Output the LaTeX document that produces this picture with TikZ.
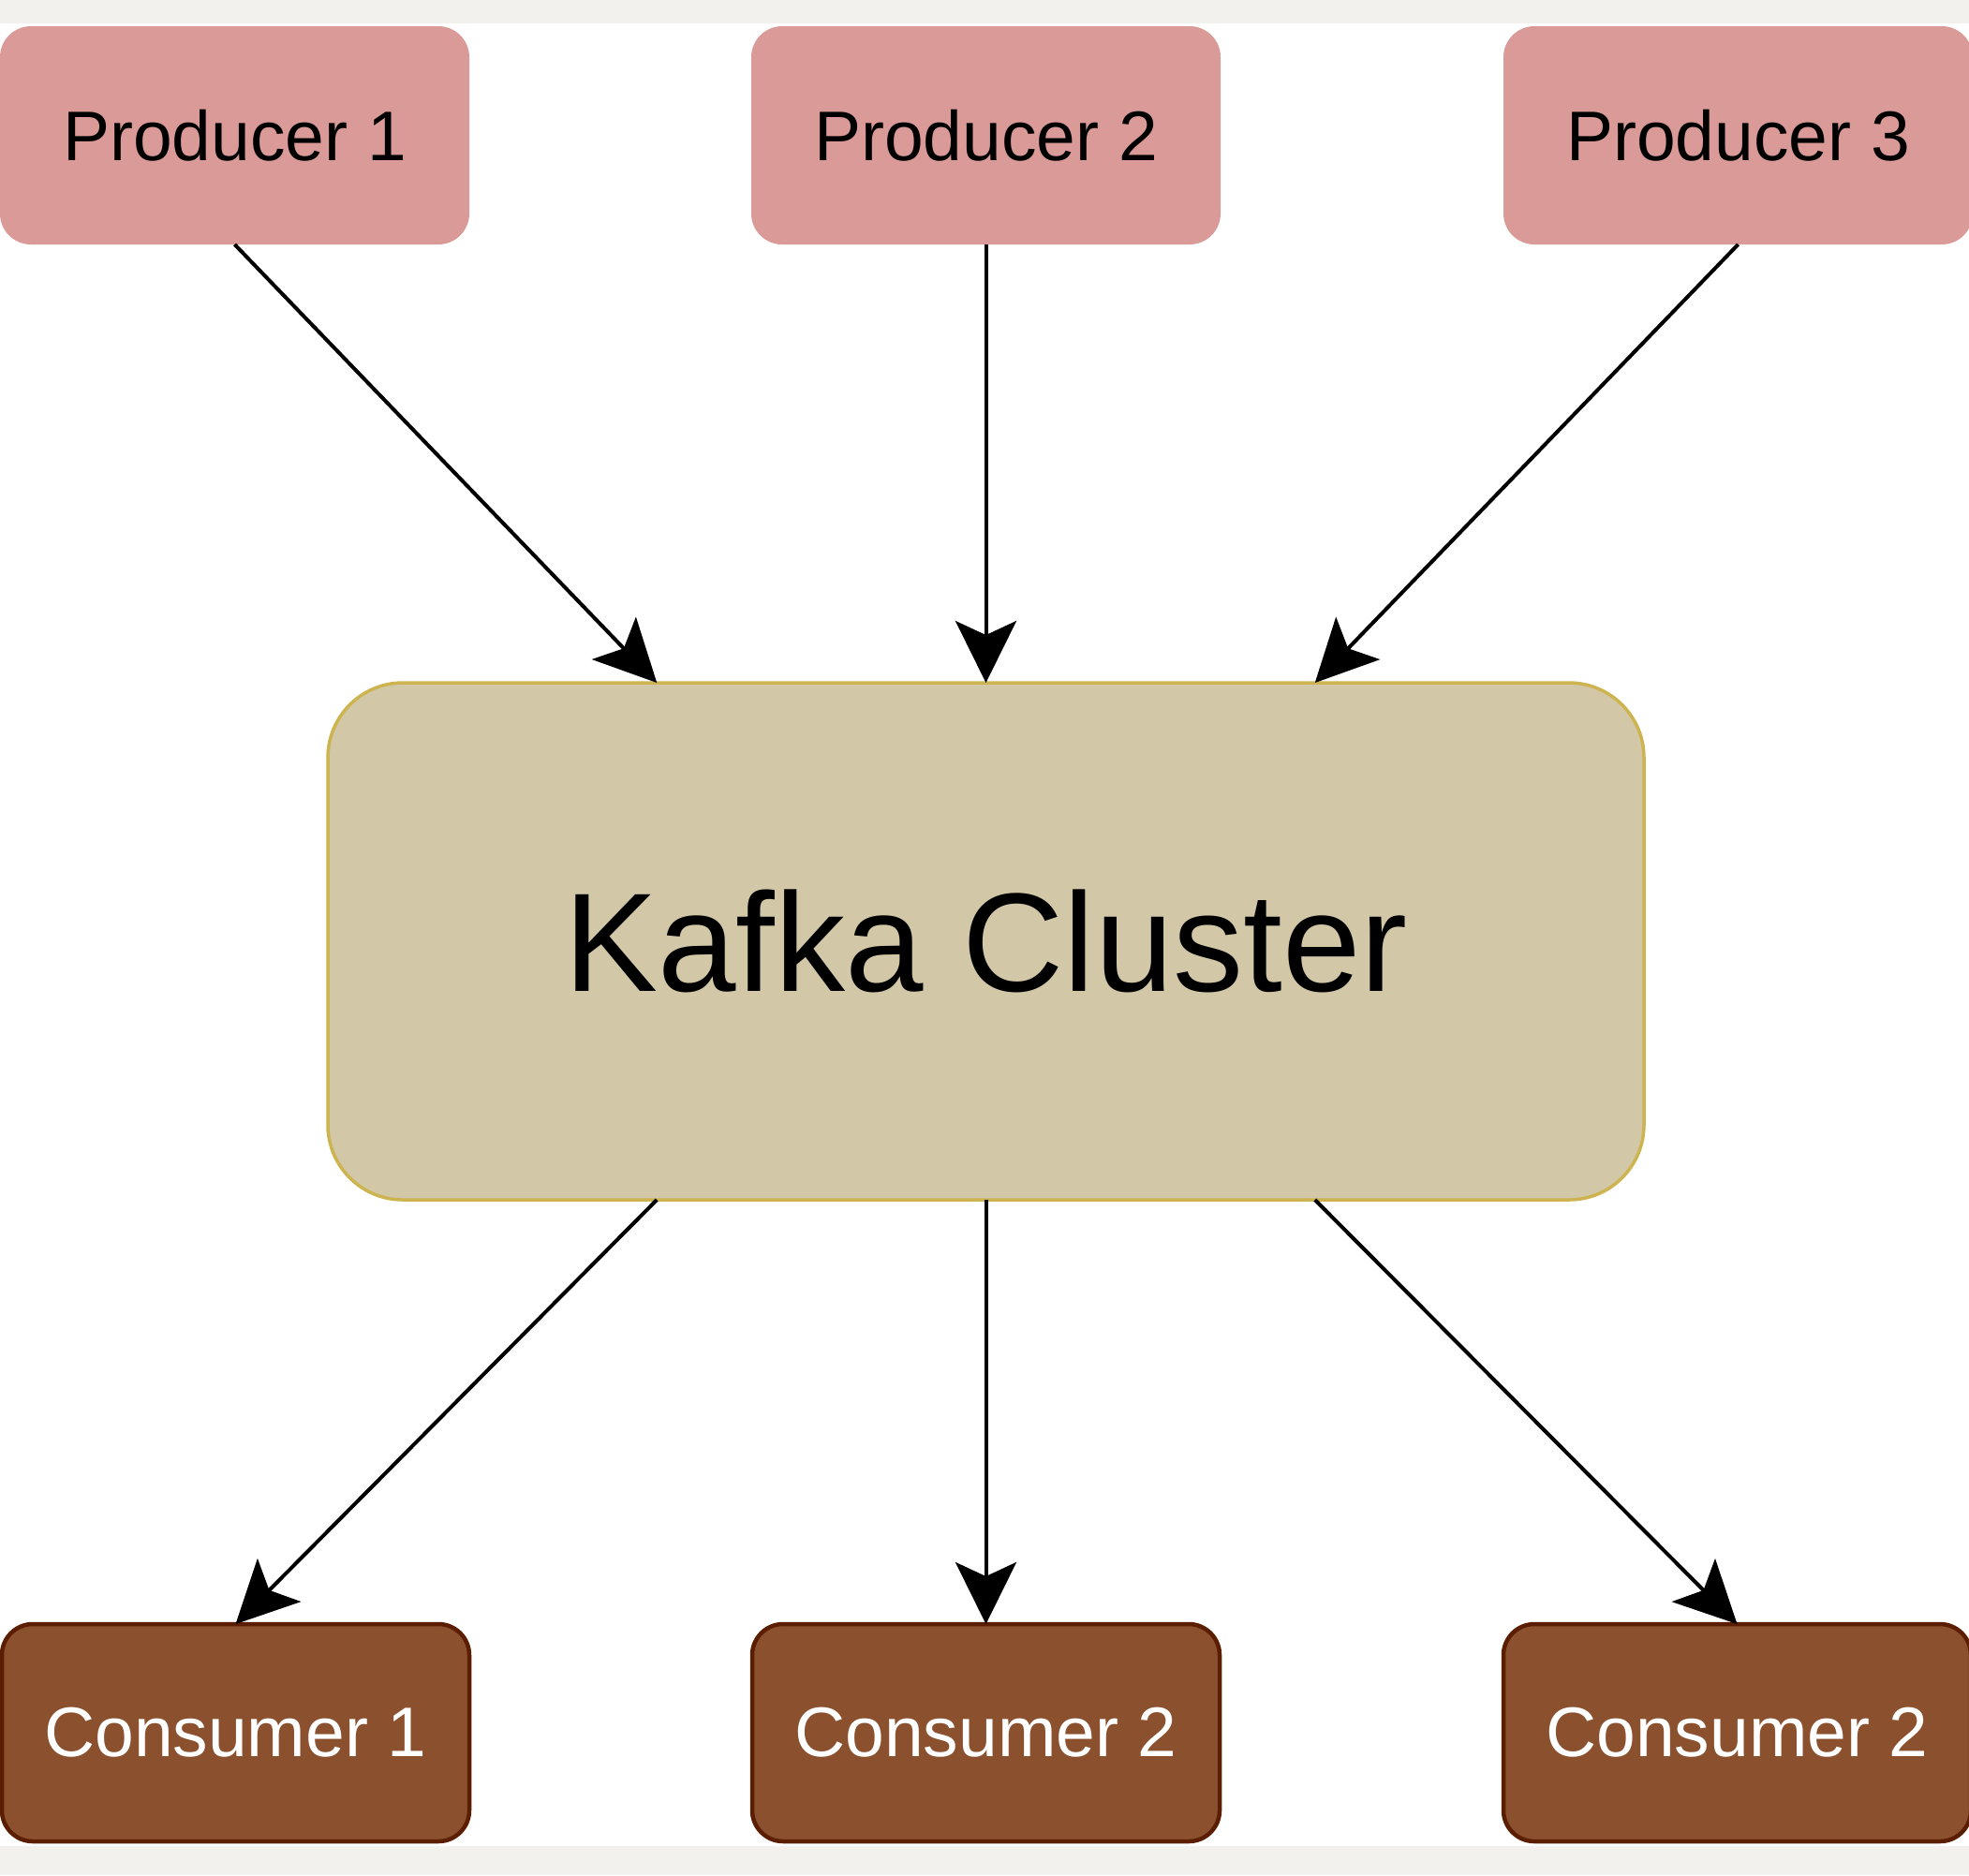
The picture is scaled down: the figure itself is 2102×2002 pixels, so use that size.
\documentclass[tikz,border=0pt]{standalone}
\usepackage{fontspec}
\setmainfont{Liberation Sans}
\usepackage{xcolor}
\usetikzlibrary{
    arrows.meta,
    calc
}
\definecolor{bandgrey}{HTML}{F2F1ED}
\definecolor{prodfill}{HTML}{DA9A98}
\definecolor{kafkafill}{HTML}{D2C8A8}
\definecolor{kafkaline}{HTML}{CDB450}
\definecolor{consfill}{HTML}{8B512F}
\definecolor{consline}{HTML}{5C1E00}
\tikzset{prodbox/.style={rectangle, rounded corners=16.5pt, fill=prodfill, inner sep=0pt, outer sep=0pt, minimum width=250.5pt, minimum height=116.5pt, font=\fontsize{37.5pt}{45pt}\selectfont}}
\tikzset{consbox/.style={rectangle, rounded corners=16.5pt, fill=consfill, draw=consline, line width=2.25pt, inner sep=0pt, outer sep=0pt, minimum width=249.5pt, minimum height=116pt, text=white, font=\fontsize{37.5pt}{45pt}\selectfont}}
\tikzset{kafkabox/.style={rectangle, rounded corners=40pt, fill=kafkafill, draw=kafkaline, line width=1.75pt, inner sep=0pt, outer sep=0pt, minimum width=702.5pt, minimum height=276pt, font=\fontsize{75pt}{90pt}\selectfont}}
\tikzset{feed/.style={-{Stealth[length=33pt, width=32.5pt, inset=7.5pt]}, line width=2pt, draw=black}}

\begin{document}
\begin{tikzpicture}[x=0.5pt, y=-0.5pt]
    \useasboundingbox (0, 0) rectangle (2102, 2002);
    \clip (0, 0) rectangle (2102, 2002);
    \fill[bandgrey] (0, 0) rectangle (2102, 2002);
    \fill[white] (0, 25) rectangle (2102, 1971);

    \node[prodbox] (p1) at (250.5, 144.5) {Producer 1};
    \node[prodbox] (p2) at (1052.5, 144.5) {Producer 2};
    \node[prodbox] (p3) at (1855.5, 144.5) {Producer 3};

    \node[kafkabox] (kc) at (1052.5, 1005) {Kafka Cluster};

    \node[consbox] (c1) at (251.5, 1850) {Consumer 1};
    \node[consbox] (c2) at (1052.5, 1850) {Consumer 2};
    \node[consbox] (c3) at (1854.5, 1850) {Consumer 2};

    \draw[feed] (p1.south) -- ($(kc.north west)!0.25!(kc.north east)$);
    \draw[feed] (p2.south) -- (kc.north);
    \draw[feed] (p3.south) -- ($(kc.north west)!0.75!(kc.north east)$);

    \draw[feed] ($(kc.south west)!0.25!(kc.south east)$) -- (c1.north);
    \draw[feed] (kc.south) -- (c2.north);
    \draw[feed] ($(kc.south west)!0.75!(kc.south east)$) -- (c3.north);
\end{tikzpicture}
\end{document}
